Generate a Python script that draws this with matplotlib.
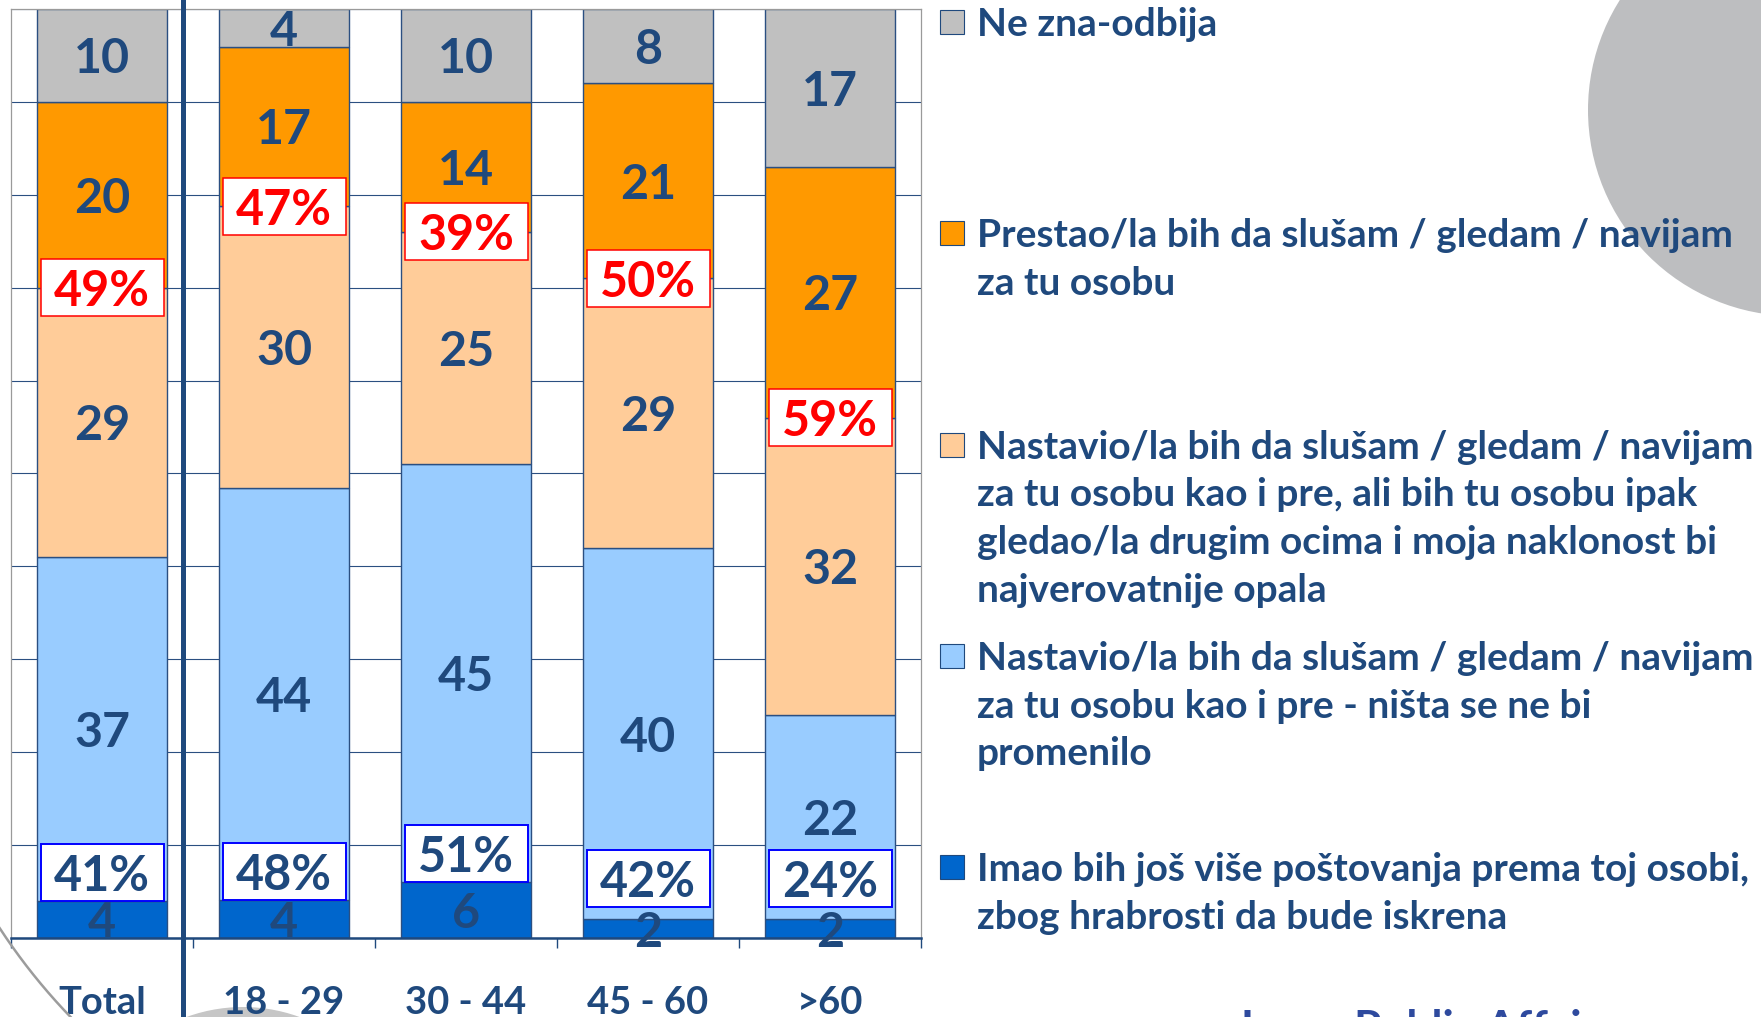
import numpy as np
import matplotlib
matplotlib.use('Agg')
import matplotlib.pyplot as plt
import matplotlib.transforms as mtransforms
from matplotlib.patches import Rectangle, Circle
from matplotlib.lines import Line2D
from matplotlib import font_manager

# ---------------- data ----------------
categories = ['Total', '18 - 29', '30 - 44', '45 - 60', '>60']
more_respect = [4, 4, 6, 2, 2]
continue_same = [37, 44, 45, 40, 22]
continue_less = [29, 30, 25, 29, 32]
stop_following = [20, 17, 14, 21, 27]
dont_know = [10, 4, 10, 8, 17]

series_labels = [
    'Imao bih još više poštovanja prema toj osobi,\nzbog hrabrosti da bude iskrena',
    'Nastavio/la bih da slušam / gledam / navijam\nza tu osobu kao i pre - ništa se ne bi\npromenilo',
    'Nastavio/la bih da slušam / gledam / navijam\nza tu osobu kao i pre, ali bih tu osobu ipak\ngledao/la drugim ocima i moja naklonost bi\nnajverovatnije opala',
    'Prestao/la bih da slušam / gledam / navijam\nza tu osobu',
    'Ne zna-odbija',
]
footer_text = 'Ipsos Public Affairs'

# ---------------- style ----------------
colors = ['#0066CC', '#99CCFF', '#FFCC99', '#FF9900', '#C0C0C0']
NAVY = '#1F497D'
EDGE = '#2B4F81'

avail = {f.name for f in font_manager.fontManager.ttflist}
fams = [f for f in ['Lato', 'Open Sans', 'Noto Sans'] if f in avail]
plt.rcParams['font.family'] = fams + ['DejaVu Sans']
plt.rcParams['font.weight'] = 'bold'

W, H = 1761, 1017
DPI = 100
fig = plt.figure(figsize=(W / DPI, H / DPI), dpi=DPI)
fig.patch.set_facecolor('white')


def fx(px):
    return np.asarray(px, dtype=float) / W


def fy(py):
    return 1 - np.asarray(py, dtype=float) / H


renderer = fig.canvas.get_renderer()


def fit_size(text, target_w, base=30):
    t = fig.text(0, 0, text, fontsize=base, fontweight='bold')
    w = t.get_window_extent(renderer).width
    t.remove()
    return base * target_w / w


CAP = 0.7165  # cap height / em (Lato)

# ---------------- background decorations ----------------
bg = fig.add_axes([0, 0, 1, 1], zorder=-1)
bg.set_xlim(0, W)
bg.set_ylim(H, 0)
bg.axis('off')
bg.add_patch(Circle((1794, 110), 206, color='#BDBEC0', lw=0))
bg.add_patch(Circle((243, 1172), 165, color='#C6C6C6', lw=0))

# thin grey arc (part of a large decorative circle) at the bottom-left corner
th = np.radians(np.linspace(125, 155, 300))
arc_x = 502 + 600 * np.cos(th)
arc_y = 600 + 600 * np.sin(th)
arc_line = Line2D(fx(arc_x), fy(arc_y), transform=fig.transFigure,
                  color='#9C9C9C', lw=1.8, zorder=10, clip_on=False)
fig.add_artist(arc_line)

# ---------------- main axes ----------------
ax = fig.add_axes([fx(11), fy(938), (921 - 11) / W, (938 - 9) / H], zorder=0)
ax.set_facecolor('white')

series = [more_respect, continue_same, continue_less, stop_following, dont_know]
vals = np.array(series, dtype=float)
totals = vals.sum(axis=0)
pct = vals / totals * 100
bottoms = np.vstack([np.zeros(len(categories)), np.cumsum(pct, axis=0)[:-1]])
x = np.arange(len(categories))
bar_w = 0.715

for i in range(len(series)):
    ax.bar(x, pct[i], bottom=bottoms[i], width=bar_w, color=colors[i],
           edgecolor=EDGE, linewidth=1.0, zorder=2)

ax.set_xlim(-0.5, len(categories) - 0.5)
ax.set_ylim(0, 100)
ax.set_yticks(np.arange(0, 101, 10))
ax.yaxis.grid(True, color=EDGE, lw=0.8)
ax.set_axisbelow(True)
ax.tick_params(axis='y', left=False, labelleft=False)
ax.set_xticks(np.arange(-0.5, len(categories), 1))
ax.set_xticklabels([])
ax.tick_params(axis='x', direction='out', length=7, width=1.0, color=NAVY)
for s in ['top', 'left', 'right']:
    ax.spines[s].set_color('#9A9A9A')
    ax.spines[s].set_linewidth(0.9)
ax.spines['bottom'].set_color(NAVY)
ax.spines['bottom'].set_linewidth(1.8)

# segment value labels
fs_val = fit_size('10', 56)
for i in range(len(series)):
    for j in range(len(categories)):
        ax.text(x[j], bottoms[i][j] + pct[i][j] / 2, f'{series[i][j]:d}',
                ha='center', va='center_baseline', color=NAVY,
                fontsize=fs_val, fontweight='bold', zorder=3, clip_on=False)

# summary boxes
fs_box = fit_size('39%', 96)
box_w, box_h = 123, 57


def px_box(xd, yd, ec, lw):
    tr = fig.dpi_scale_trans + mtransforms.ScaledTranslation(xd, yd, ax.transData)
    r = Rectangle((-box_w / 2 / DPI, -box_h / 2 / DPI), box_w / DPI, box_h / DPI,
                  transform=tr, facecolor='white', edgecolor=ec, lw=lw,
                  zorder=4, clip_on=False)
    ax.add_patch(r)


neg_sum = np.array(continue_less) + np.array(stop_following)
pos_sum = np.array(more_respect) + np.array(continue_same)
neg_y = bottoms[3]
pos_y = np.maximum(pct[0], 3.3) + 3.1
for j in range(len(categories)):
    px_box(x[j], neg_y[j], '#FF0000', 1.1)
    ax.text(x[j], neg_y[j], f'{neg_sum[j]}%', ha='center', va='center_baseline',
            color='#FF0000', fontsize=fs_box, fontweight='bold', zorder=5)
    px_box(x[j], pos_y[j], '#0000FF', 1.4)
    ax.text(x[j], pos_y[j], f'{pos_sum[j]}%', ha='center', va='center_baseline',
            color=NAVY, fontsize=fs_box, fontweight='bold', zorder=5)

# category labels
fs_cat = fit_size('18 - 29', 121)
cat_base = 987 + CAP * fs_cat * DPI / 72
blend = mtransforms.blended_transform_factory(ax.transData, fig.transFigure)
for j, c in enumerate(categories):
    ax.text(x[j], fy(cat_base), c, transform=blend, ha='center', va='baseline',
            color=NAVY, fontsize=fs_cat, fontweight='bold', clip_on=False)

# thick separator line
fig.add_artist(Line2D([fx(183), fx(183)], [0, 1], transform=fig.transFigure,
                      color=NAVY, lw=3.6, zorder=2))

# ---------------- legend ----------------
fs_leg = fit_size('Nastavio/la bih da slušam / gledam / navijam', 777)
leg_first_base = 36
leg_step = 211.3
line_step = 47.7
for k, idx in enumerate(range(len(series) - 1, -1, -1)):
    base0 = leg_first_base + leg_step * k
    bg.add_patch(Rectangle((940, base0 - 26), 24, 24, facecolor=colors[idx],
                           edgecolor=NAVY, lw=0.8, zorder=3))
    for li, line in enumerate(series_labels[idx].split('\n')):
        fig.text(fx(977), fy(base0 + line_step * li), line, ha='left',
                 va='baseline', color=NAVY, fontsize=fs_leg, fontweight='bold')

# footer (mostly cut off, as in the source slide)
fs_foot = fit_size(footer_text, 376)
fig.text(fx(1241), fy(1010 + CAP * fs_foot * DPI / 72), footer_text,
         ha='left', va='baseline', color='#2E4A9E', fontsize=fs_foot,
         fontweight='bold')

fig.savefig('out.png', dpi=DPI, facecolor='white')
